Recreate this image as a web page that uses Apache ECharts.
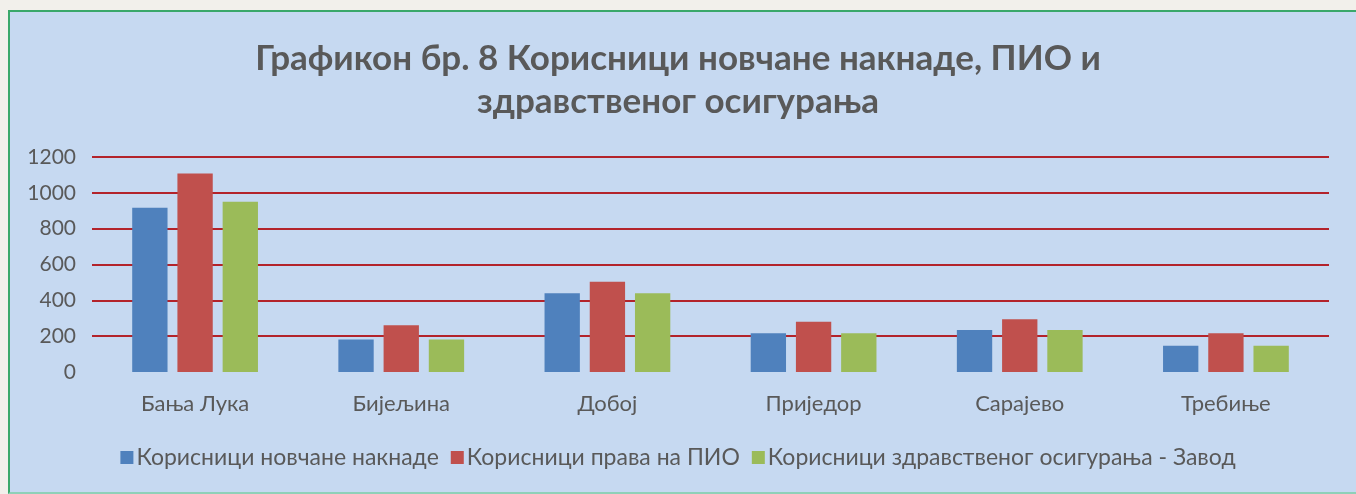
<!DOCTYPE html>
<html>
<head>
<meta charset="utf-8">
<script src="https://cdn.jsdelivr.net/npm/echarts@6/dist/echarts.min.js"></script>
<style>
  html, body { margin: 0; padding: 0; background: #f2f0eb; }
  #wrap {
    position: absolute; left: 8px; top: 10px;
    width: 1360px; height: 480px;
    background: #c6d9f1;
    border-left: 2px solid #3aa86a;
    border-top: 2px solid #3aa86a;
    border-bottom: 2px solid #8fd0b8;
  }
  #chart { position: absolute; left: -10px; top: -12px; width: 1356px; height: 494px; }
</style>
</head>
<body>
<div id="wrap"><div id="chart"></div></div>
<script>
// categories and values
var cities = ['Бања Лука', 'Бијељина', 'Добој', 'Приједор', 'Сарајево', 'Требиње']
var seriesNames = ['Корисници новчане накнаде', 'Корисници права на ПИО', 'Корисници здравственог осигурања - Завод']
var novcana = [917, 182, 439, 216, 234, 147]
var pio = [1108, 261, 504, 281, 294, 216]
var zdravstveno = [950, 182, 439, 216, 234, 147]
var yTicks = [0, 200, 400, 600, 800, 1000, 1200]

var colors = ['#4f81bd', '#c0504d', '#9bbb59']
var font = 'Lato, "Open Sans", sans-serif'

var myChart = echarts.init(document.getElementById('chart'))
var values = [novcana, pio, zdravstveno]
var grop = []
for (var i = 0; i < seriesNames.length; i++) {
  grop.push({
    name: seriesNames[i],
    type: 'bar',
    barGap: '28%',
    barCategoryGap: '39%',
    itemStyle: { color: colors[i] },
    data: values[i]
  })
}

var option = {
  animation: false,
  backgroundColor: 'transparent',
  title: {
    text: 'Графикон бр. 8 Корисници новчане накнаде, ПИО и\nздравственог осигурања',
    left: 'center',
    top: 32,
    textStyle: {
      fontFamily: font,
      fontWeight: 'bold',
      fontSize: 35,
      color: '#595959',
      lineHeight: 43
    }
  },
  legend: {
    data: seriesNames,
    bottom: 20,
    left: 'center',
    itemWidth: 13,
    itemHeight: 13,
    itemGap: 12,
    icon: 'rect',
    textStyle: { fontFamily: font, fontSize: 23, color: '#595959', padding: [0, 0, 0, -2] }
  },
  grid: { left: 92, right: 27, top: 157, bottom: 122, containLabel: false },
  xAxis: {
    type: 'category',
    data: cities,
    axisLine: { show: false },
    axisTick: { show: false },
    axisLabel: { fontFamily: font, fontSize: 22, color: '#595959', margin: 21 }
  },
  yAxis: {
    type: 'value',
    min: yTicks[0],
    max: yTicks[yTicks.length - 1],
    interval: 200,
    axisLine: { show: false },
    axisTick: { show: false },
    axisLabel: {
      fontFamily: font, fontSize: 21, color: '#595959', margin: 16,
      formatter: function (v) { return String(v) }
    },
    splitLine: { showMinLine: false, lineStyle: { color: '#b3232b', width: 2 } }
  },
  series: grop
}

option && myChart.setOption(option)
</script>
</body>
</html>
